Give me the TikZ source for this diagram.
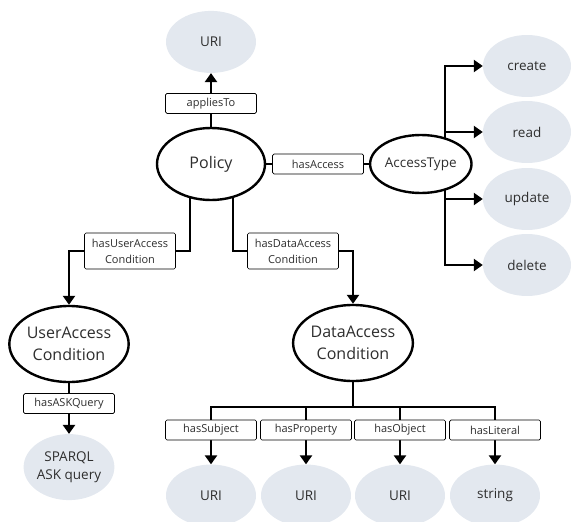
\documentclass[tikz,border=0pt]{standalone}
\usepackage{fontspec}
\setmainfont{Open Sans}
\usetikzlibrary{positioning,shapes.geometric,arrows.meta}
\pgfdeclarelayer{bg}
\pgfsetlayers{bg,main}
\definecolor{valgrey}{HTML}{E3E8EF}
\definecolor{txtgrey}{HTML}{2E2E2E}

\begin{document}
\begin{tikzpicture}[x=1pt,y=-1pt,
  class/.style={ellipse, draw, line width=2.4pt, fill=white, inner sep=0pt, text=txtgrey},
  value/.style={ellipse, fill=valgrey, inner sep=0pt, minimum width=90pt, minimum height=62pt,
    text=txtgrey, font=\fontsize{13.5}{18}\selectfont, align=center},
  prop/.style={draw, line width=0.7pt, rounded corners=1.5pt, fill=white, minimum width=91pt,
    minimum height=20pt, inner sep=1pt, text=txtgrey, font=\fontsize{11}{16}\selectfont, align=center},
  conn/.style={line width=2.4pt},
  arr/.style={conn, -{Triangle[length=9pt,width=12pt]}}]

\useasboundingbox (0,0) rectangle (571,522);

% Classes
\node[class, minimum width=108pt, minimum height=72pt, font=\fontsize{16}{19}\selectfont] (policy) at (211,164) {Policy};
\node[prop, above=13pt of policy] (appliesTo) {appliesTo};
\node[value, above=20pt of appliesTo] (uri) {URI};

\node[prop, right=6pt of policy] (hasAccess) {hasAccess};
\node[class, right=5pt of hasAccess, minimum width=88pt, minimum height=58pt, font=\fontsize{13.5}{16}\selectfont] (accessType) {AccessType};

\node[value, minimum width=88pt, minimum height=62pt] (create) at (527,66) {create};
\node[value, minimum width=88pt, minimum height=62pt] (read) at (527,132) {read};
\node[value, minimum width=88pt, minimum height=62pt] (update) at (527,199) {update};
\node[value, minimum width=88pt, minimum height=62pt] (delete) at (527,265) {delete};

\node[prop, minimum height=36pt] (hasUserAccess) at (130,251) {hasUserAccess\\Condition};
\node[prop, minimum height=36pt] (hasDataAccess) at (293,251) {hasDataAccess\\Condition};

\node[class, minimum width=107pt, minimum height=76pt, font=\fontsize{16}{22}\selectfont, align=center] (userCond) at (69,344) {UserAccess\\Condition};
\node[prop, below=10pt of userCond] (hasASKQuery) {hasASKQuery};
\node[value, below=20pt of hasASKQuery, minimum height=66pt] (sparql) {SPARQL\\ASK query};

\node[class, minimum width=107pt, minimum height=76pt, font=\fontsize{16}{22}\selectfont, align=center] (dataCond) at (353,343) {DataAccess\\Condition};

\node[prop] (hasSubject) at (211,430) {hasSubject};
\node[prop] (hasProperty) at (306,430) {hasProperty};
\node[prop] (hasObject) at (400,430) {hasObject};
\node[prop] (hasLiteral) at (495,430) {hasLiteral};
\node[value, below=24pt of hasSubject] (uriS) {URI};
\node[value, below=24pt of hasProperty] (uriP) {URI};
\node[value, below=24pt of hasObject] (uriO) {URI};
\node[value, below=24pt of hasLiteral] (lit) {string};

\coordinate (fork) at (445,165);
\coordinate (bar) at (353,407);

% Connect nodes
\begin{pgfonlayer}{bg}
  \draw[conn] (policy) -- (appliesTo);
  \draw[arr] (appliesTo) -- (uri);
  \draw[conn] (policy) -- (hasAccess) -- (accessType);
  \foreach \t in {create, read, update, delete}
    \draw[arr] (fork) |- (\t);
  \draw[conn] ([xshift=-21pt]policy.center) |- (hasUserAccess);
  \draw[arr] (hasUserAccess) -| (userCond);
  \draw[conn] ([xshift=22pt]policy.center) |- (hasDataAccess);
  \draw[arr] (hasDataAccess) -| (dataCond);
  \draw[conn] (userCond) -- (hasASKQuery);
  \draw[arr] (hasASKQuery) -- (sparql);
  \draw[conn] (dataCond) -- (bar);
  \draw[conn] (hasSubject.north) |- (bar) -| (hasLiteral.north);
  \draw[conn] (bar -| hasProperty) -- (hasProperty);
  \draw[conn] (bar -| hasObject) -- (hasObject);
  \draw[arr] (hasSubject) -- (uriS);
  \draw[arr] (hasProperty) -- (uriP);
  \draw[arr] (hasObject) -- (uriO);
  \draw[arr] (hasLiteral) -- (lit);
\end{pgfonlayer}

\end{tikzpicture}
\end{document}
